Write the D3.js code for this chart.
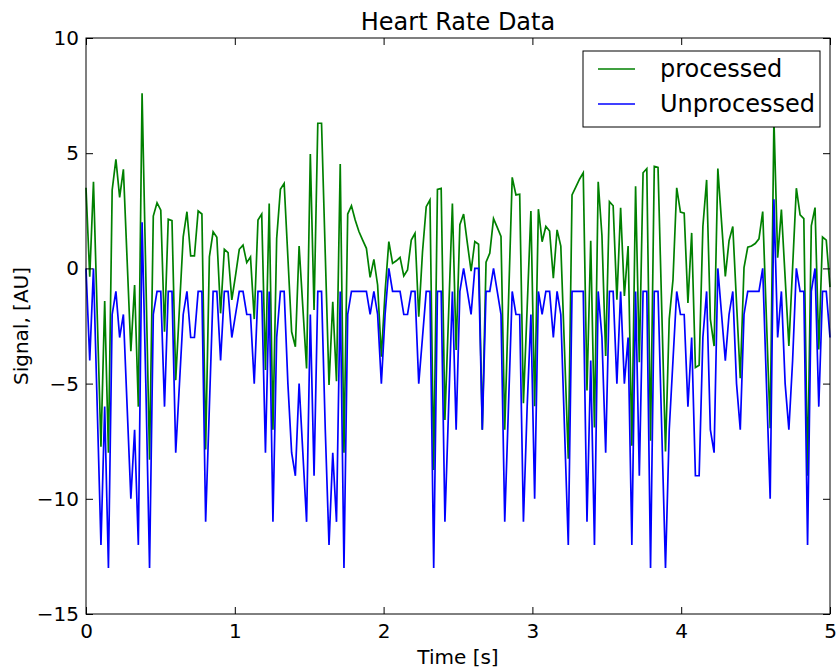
<!DOCTYPE html>
<html>
<head>
<meta charset="utf-8">
<script src="https://cdn.jsdelivr.net/npm/d3@7"></script>
<style>
  body { margin: 0; background: #fff; }
  svg { display: block; font-family: "DejaVu Sans", sans-serif; }
</style>
</head>
<body>
<svg id="chart" width="838" height="672"></svg>
<script>
// 200 samples spread evenly over 0..5 s
const tStart = 0, tEnd = 5;

const processed = [
  3.5, -0.36, 3.76, -2.0, -7.74, -1.42, -8.0, 3.4, 4.73, 3.08,
  4.3, 0.35, -3.59, -0.72, -6.0, 7.6, -0.3, -8.3, 2.27, 2.85,
  2.53, -2.75, 2.13, 2.07, -4.85, -1.7, 1.37, 2.46, 0.54, 0.54,
  2.49, 2.36, -7.86, 0.5, 1.59, 1.35, -1.95, 0.83, 0.68, -1.37,
  -0.3, 0.83, 1.01, 0.25, 0.5, -2.2, 2.1, 2.36, -4.41, 2.82,
  -7.0, 1.3, 3.43, 3.69, 0.47, -2.75, -3.4, 0.97, -1.7, -4.34,
  4.96, -1.8, 6.3, 6.3, 0.6, -5.06, -1.45, -4.9, 4.53, -8.0,
  2.36, 2.72, 2.1, 1.6, 1.23, 0.87, -0.39, 0.39, -0.72, -3.83,
  -1.0, 1.16, 0.22, 0.33, 0.48, -0.33, -0.07, 1.23, 1.52, -2.1,
  0.7, 2.68, 2.97, -8.75, 3.43, 3.47, -6.58, -1.9, 2.82, -3.54,
  1.9, 2.36, 1.1, -0.12, 1.17, 1.05, -7.0, 0.27, 0.66, 2.16,
  1.78, 1.39, -7.0, -1.5, 3.95, 3.19, 3.22, -5.85, -1.7, 2.49,
  -5.98, 2.57, 1.16, 1.82, 1.62, -0.43, 1.67, 0.97, -3.6, -8.26,
  3.19, 3.53, 3.87, 4.15, -5.3, 1.2, -6.9, 3.76, 1.43, -3.8,
  2.9, 2.72, -1.36, 2.63, -1.2, 0.97, -7.7, 3.57, -4.07, 4.15,
  4.33, -7.48, 4.43, 4.38, -1.8, -7.95, -2.2, -0.5, 3.5, 2.44,
  2.4, -1.5, 1.54, -4.3, -4.2, 1.82, 3.84, -2.2, -3.37, 4.33,
  2.0, -0.35, 1.2, 1.82, -1.5, -4.77, 0.04, 0.92, 0.97, 1.08,
  1.28, 2.47, -2.2, -6.94, 6.47, 0.46, 2.55, -0.4, -3.37, 0.05,
  3.48, 2.32, 2.16, -9.0, 1.85, 2.64, -3.52, 1.36, 1.23, -0.81
];

const unprocessed = [
  0, -4, 0, -6, -12, -6, -13, -2, -1, -3,
  -2, -6, -10, -7, -12, 2, -5, -13, -2, -1,
  -1, -6, -1, -1, -8, -5, -2, -1, -3, -3,
  -1, -1, -11, -6, -1, -1, -4, -1, -1, -3,
  -2, -1, -1, -2, -2, -5, -1, -1, -8, -1,
  -11, -3, -1, -1, -5, -8, -9, -5, -8, -11,
  -2, -9, -1, -1, -7, -12, -8, -11, -1, -13,
  -2, -1, -1, -1, -1, -1, -2, -1, -2, -5,
  -2, 0, -1, -1, -1, -2, -2, -1, -1, -5,
  -3, -1, -1, -13, -1, -1, -11, -6, -1, -7,
  -1, 0, -1, -2, 0, 0, -7, -1, -1, 0,
  -1, -2, -11, -6, -1, -2, -2, -11, -6, -2,
  -10, -1, -2, -1, -1, -3, -1, -2, -7, -12,
  -1, -1, -1, -1, -11, -4, -12, -1, -3, -8,
  -1, -1, -5, -1, -5, -3, -12, -1, -9, -1,
  -1, -13, -1, -1, -7, -13, -7, -4, -1, -2,
  -2, -6, -3, -9, -9, -3, -1, -7, -8, 0,
  -2, -4, -2, -1, -5, -7, -2, -1, -1, -1,
  -1, 0, -5, -10, 3, -3, -1, -5, -7, -4,
  0, -1, -1, -12, -1, 0, -6, -1, -1, -3
];

const xTicks = [0, 1, 2, 3, 4, 5];
const yTicks = [-15, -10, -5, 0, 5, 10];
const seriesNames = ["processed", "Unprocessed"];
const seriesColors = ["#008000", "#0000ff"];

const svg = d3.select("#chart");
const margin = { top: 38, right: 8, bottom: 58, left: 86 };
const width = 838, height = 672;

const x = d3.scaleLinear().domain([0, 5]).range([margin.left, width - margin.right]);
const y = d3.scaleLinear().domain([-15, 10]).range([height - margin.bottom, margin.top]);

const fmt = (d) => (d < 0 ? "\u2212" + Math.abs(d) : String(d));

// time of sample i
const dt = (tEnd - tStart) / (processed.length - 1);

// lines (processed first, unprocessed drawn on top)
const line = d3.line()
  .x((d, i) => x(tStart + i * dt))
  .y((d) => y(d));

[processed, unprocessed].forEach((data, k) => {
  svg.append("path")
    .datum(data)
    .attr("fill", "none")
    .attr("stroke", seriesColors[k])
    .attr("stroke-width", 1.7)
    .attr("d", line);
});

// axes, ticks pointing inward on all four sides
const tickLen = 7;
const styleAxis = (g) => {
  g.select(".domain").remove();
  g.selectAll(".tick line").attr("stroke", "#000").attr("stroke-width", 1);
  g.selectAll(".tick text").attr("fill", "#000").style("font-size", "20px")
    .style("font-family", "DejaVu Sans");
};

svg.append("g")
  .attr("transform", `translate(0,${y(-15)})`)
  .call(d3.axisBottom(x).tickValues(xTicks).tickFormat(fmt).tickSize(-tickLen).tickPadding(10))
  .call(styleAxis);

svg.append("g")
  .attr("transform", `translate(0,${y(10)})`)
  .call(d3.axisTop(x).tickValues(xTicks).tickFormat("").tickSize(-tickLen))
  .call(styleAxis);

svg.append("g")
  .attr("transform", `translate(${x(0)},0)`)
  .call(d3.axisLeft(y).tickValues(yTicks).tickFormat(fmt).tickSize(-tickLen).tickPadding(7))
  .call(styleAxis);

svg.append("g")
  .attr("transform", `translate(${x(5)},0)`)
  .call(d3.axisRight(y).tickValues(yTicks).tickFormat("").tickSize(-tickLen))
  .call(styleAxis);

// frame
svg.append("rect")
  .attr("x", x(0))
  .attr("y", y(10))
  .attr("width", x(5) - x(0))
  .attr("height", y(-15) - y(10))
  .attr("fill", "none")
  .attr("stroke", "#000")
  .attr("stroke-width", 1);

// title and axis labels
svg.append("text")
  .attr("x", (x(0) + x(5)) / 2)
  .attr("y", 30)
  .attr("text-anchor", "middle")
  .style("font-size", "24px")
  .text("Heart Rate Data");

svg.append("text")
  .attr("x", (x(0) + x(5)) / 2)
  .attr("y", 664)
  .attr("text-anchor", "middle")
  .style("font-size", "20px")
  .text("Time [s]");

svg.append("text")
  .attr("transform", `translate(28,${(y(10) + y(-15)) / 2}) rotate(-90)`)
  .attr("text-anchor", "middle")
  .style("font-size", "20px")
  .text("Signal, [AU]");

// legend
const legend = svg.append("g").attr("transform", "translate(583,51)");
legend.append("rect")
  .attr("width", 237)
  .attr("height", 76)
  .attr("fill", "#fff")
  .attr("stroke", "#000")
  .attr("stroke-width", 1);

seriesNames.forEach((name, k) => {
  const row = legend.append("g").attr("transform", `translate(0,${18 + k * 35})`);
  row.append("line")
    .attr("x1", 15).attr("x2", 52)
    .attr("stroke", seriesColors[k])
    .attr("stroke-width", 1.7);
  row.append("text")
    .attr("x", 77)
    .attr("y", 8)
    .style("font-size", "24px")
    .text(name);
});
</script>
</body>
</html>
